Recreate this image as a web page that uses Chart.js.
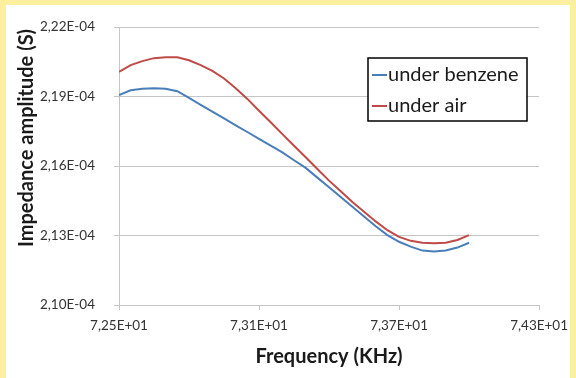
<!DOCTYPE html>
<html>
<head>
<meta charset="utf-8">
<script src="https://cdn.jsdelivr.net/npm/chart.js@4"></script>
<style>
  html, body { margin: 0; padding: 0; background: #fff; }
  #wrap { width: 576px; height: 378px; }
</style>
</head>
<body>
<div id="wrap"><canvas id="impChart" width="576" height="378"></canvas></div>
<script>
// frequency sweep, KHz
const freq = [72.50, 72.55, 72.60, 72.65, 72.70, 72.75, 72.80, 72.85, 72.90, 72.95,
              73.00, 73.05, 73.10, 73.15, 73.20, 73.25, 73.30, 73.35, 73.40, 73.45,
              73.50, 73.55, 73.60, 73.65, 73.70, 73.75, 73.80, 73.85, 73.90, 73.95, 74.00];

// impedance amplitude, S
const benzene = [2.1906e-4, 2.1927e-4, 2.1934e-4, 2.1936e-4, 2.1934e-4, 2.1923e-4, 2.1894e-4, 2.1864e-4,
                 2.1835e-4, 2.1806e-4, 2.1776e-4, 2.1747e-4, 2.1717e-4, 2.1688e-4, 2.1659e-4, 2.1625e-4,
                 2.1592e-4, 2.1550e-4, 2.1508e-4, 2.1466e-4, 2.1424e-4, 2.1382e-4, 2.1340e-4, 2.1302e-4,
                 2.1273e-4, 2.1252e-4, 2.1235e-4, 2.1231e-4, 2.1235e-4, 2.1248e-4, 2.1269e-4];
const air = [2.2007e-4, 2.2036e-4, 2.2053e-4, 2.2066e-4, 2.2070e-4, 2.2070e-4, 2.2057e-4, 2.2036e-4,
             2.2011e-4, 2.1978e-4, 2.1936e-4, 2.1890e-4, 2.1839e-4, 2.1789e-4, 2.1738e-4, 2.1688e-4,
             2.1638e-4, 2.1587e-4, 2.1537e-4, 2.1491e-4, 2.1445e-4, 2.1403e-4, 2.1361e-4, 2.1323e-4,
             2.1294e-4, 2.1277e-4, 2.1269e-4, 2.1267e-4, 2.1269e-4, 2.1281e-4, 2.1302e-4];

const xTicks = [72.5, 73.1, 73.7, 74.3];
const yTicks = [2.10e-4, 2.13e-4, 2.16e-4, 2.19e-4, 2.22e-4];

const FONT = 'Lato, "Open Sans", sans-serif';
const GRID = '#c6c6c6';

// 2,19E-04 style labels
function sci(v) {
  const [m, e] = v.toExponential(2).split('e');
  const sign = e[0] === '-' ? '-' : '+';
  return m.replace('.', ',') + 'E' + sign + e.replace(/[+-]/, '').padStart(2, '0');
}

const toPoints = ys => freq.map((f, i) => ({ x: f, y: ys[i] }));

// yellow frame, rotated y title and boxed legend
const decor = {
  id: 'decor',
  beforeDraw(chart) {
    const ctx = chart.ctx;
    ctx.save();
    ctx.fillStyle = '#fcef9e';
    ctx.fillRect(0, 0, chart.width, chart.height);
    ctx.fillStyle = '#ffffff';
    ctx.fillRect(6, 5, 564, 373);
    ctx.restore();
  },
  afterDraw(chart) {
    const ctx = chart.ctx;
    ctx.save();
    ctx.fillStyle = '#1a1a1a';
    ctx.font = 'bold 20px ' + FONT;
    ctx.textAlign = 'center';
    ctx.textBaseline = 'middle';
    ctx.translate(27, 138);
    ctx.rotate(-Math.PI / 2);
    ctx.fillText('Impedance amplitude (S)', 0, 0);
    ctx.restore();

    // legend
    const bx = 368, by = 58, bw = 159, bh = 63;
    ctx.save();
    ctx.fillStyle = '#ffffff';
    ctx.fillRect(bx, by, bw, bh);
    ctx.strokeStyle = '#000000';
    ctx.lineWidth = 1.5;
    ctx.strokeRect(bx, by, bw, bh);
    ctx.font = '20px ' + FONT;
    ctx.textBaseline = 'middle';
    chart.data.datasets.forEach((ds, i) => {
      const y = by + 17 + i * 31;
      ctx.strokeStyle = ds.borderColor;
      ctx.lineWidth = 2;
      ctx.beginPath();
      ctx.moveTo(bx + 4, y);
      ctx.lineTo(bx + 19, y);
      ctx.stroke();
      ctx.fillStyle = '#1a1a1a';
      ctx.fillText(ds.label, bx + 20, y);
    });
    ctx.restore();
  }
};

new Chart(document.getElementById('impChart'), {
  type: 'line',
  data: {
    datasets: [
      { label: 'under benzene', data: toPoints(benzene), borderColor: '#4a7ebb', borderWidth: 2, pointRadius: 0, tension: 0 },
      { label: 'under air', data: toPoints(air), borderColor: '#be4b48', borderWidth: 2, pointRadius: 0, tension: 0 }
    ]
  },
  options: {
    responsive: false,
    animation: false,
    devicePixelRatio: 1,
    layout: { padding: { left: 6, top: 19, right: 30, bottom: 0 } },
    plugins: { legend: { display: false }, tooltip: { enabled: false } },
    scales: {
      x: {
        type: 'linear',
        min: 72.5,
        max: 74.3,
        afterBuildTicks: s => { s.ticks = xTicks.map(v => ({ value: v })); },
        afterFit: s => { s.height = 73; },
        grid: { drawOnChartArea: false, drawTicks: true, tickLength: 5, color: GRID },
        border: { color: GRID },
        ticks: {
          callback: v => sci(v),
          maxRotation: 0,
          padding: 8,
          color: '#333',
          font: { family: FONT, size: 13.5 }
        },
        title: {
          display: true,
          text: 'Frequency (KHz)',
          color: '#1a1a1a',
          font: { family: FONT, size: 20, weight: 'bold' },
          padding: { top: 0, bottom: 9 }
        }
      },
      y: {
        min: 2.10e-4,
        max: 2.22e-4,
        afterBuildTicks: s => { s.ticks = yTicks.map(v => ({ value: v })); },
        afterFit: s => { s.width = 113; },
        grid: { color: GRID, tickLength: 5 },
        border: { color: GRID },
        ticks: {
          callback: v => sci(v),
          padding: 19,
          color: '#333',
          font: { family: FONT, size: 13.5 }
        }
      }
    }
  },
  plugins: [decor]
});
</script>
</body>
</html>
